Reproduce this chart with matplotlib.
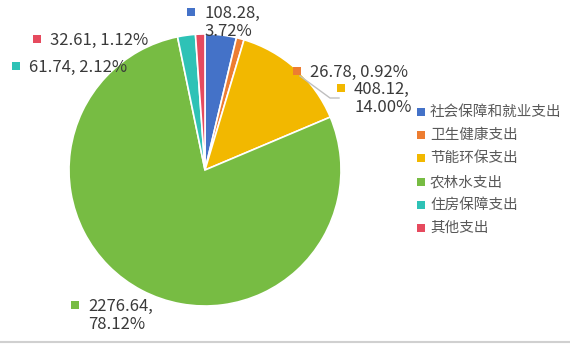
import matplotlib.pyplot as plt
from matplotlib.patches import Rectangle
from matplotlib.lines import Line2D

plt.rcParams['font.family'] = ['Noto Sans CJK SC', 'DejaVu Sans']

categories = ["社会保障和就业支出", "卫生健康支出", "节能环保支出", "农林水支出", "住房保障支出", "其他支出"]
values = [108.28, 26.78, 408.12, 2276.64, 61.74, 32.61]
percents = ["3.72%", "0.92%", "14.00%", "78.12%", "2.12%", "1.12%"]
colors = ["#4472C8", "#ED7D31", "#F2B800", "#77BC43", "#2EC2B6", "#E64A5E"]

W, H = 570, 344
fig = plt.figure(figsize=(W / 100, H / 100), dpi=100)

# pie centre (205, 170) px, radius 136 px
cx, cy, r = 205, 170, 136
ax = fig.add_axes([(cx - r) / W, (H - cy - r) / H, 2 * r / W, 2 * r / H])
ax.pie(values, colors=colors, startangle=90, counterclock=False,
       wedgeprops=dict(edgecolor="white", linewidth=1.2))
ax.set_xlim(-1, 1)
ax.set_ylim(-1, 1)
ax.set_aspect("equal")
ax.axis("off")


def px(x, y):
    return x / W, 1 - y / H


def square(x, y, color, size=8):
    fx, fy = px(x - size / 2, y + size / 2)
    fig.add_artist(Rectangle((fx, fy), size / W, size / H, transform=fig.transFigure,
                             facecolor=color, edgecolor="none"))


txt_color = "#3A3A3A"
fs = 12

# data labels: (marker x, marker y, text lines)
label_pos = [(191, 12, 2), (297, 71, 1), (341, 88, 2), (75, 305, 2), (16, 66, 1), (37, 39, 1)]
for i, (mx, my, nlines) in enumerate(label_pos):
    square(mx, my, colors[i])
    if nlines == 1:
        s = f"{values[i]:.2f}, {percents[i]}"
    else:
        s = f"{values[i]:.2f},\n{percents[i]}"
    fx, fy = px(mx + 13, my - 7)
    fig.text(fx, fy, s, fontsize=fs, color=txt_color, ha="left", va="top",
             linespacing=1.1)

# leader line for the small slice label
lx = [300, 330, 339]
ly = [76, 98, 98]
fig.add_artist(Line2D([x / W for x in lx], [1 - y / H for y in ly],
                      transform=fig.transFigure, color="#BFBFBF", linewidth=1))

# legend
leg_y = [112, 135, 158, 182, 205, 228]
for i, name in enumerate(categories):
    square(421, leg_y[i], colors[i], size=8)
    fx, fy = px(430, leg_y[i])
    fig.text(fx, fy, name, fontsize=10.5, color="#595959", ha="left", va="center")

# bottom border
fig.add_artist(Line2D([0, 1], [1 - 342 / H, 1 - 342 / H], transform=fig.transFigure,
                      color="#D0D0D0", linewidth=1.5))

fig.savefig("out.png", dpi=100)
